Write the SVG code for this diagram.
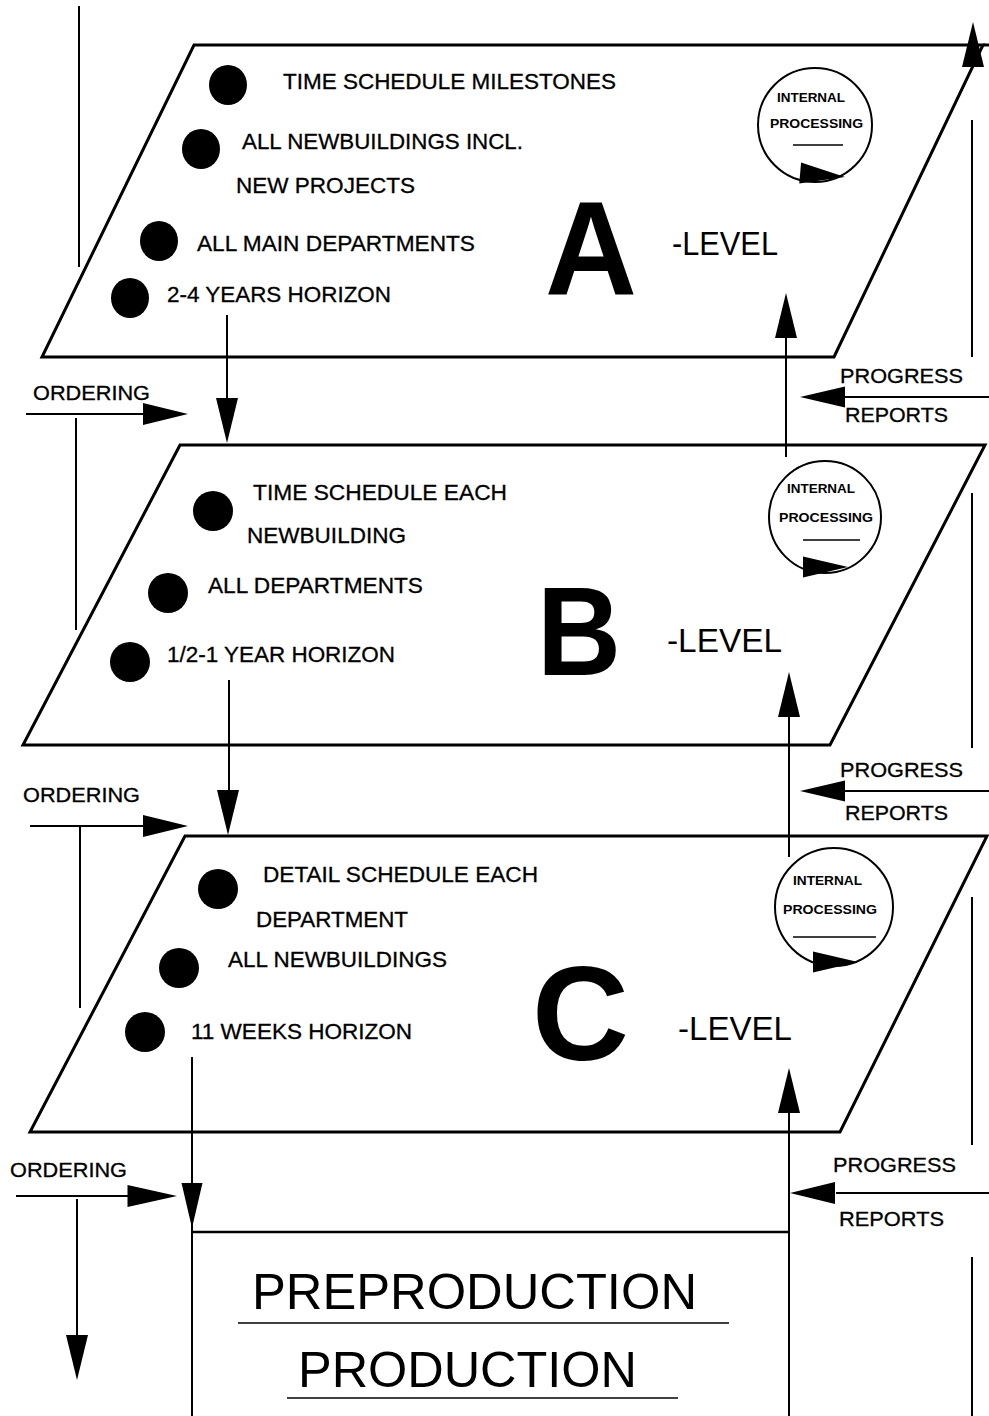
<svg xmlns="http://www.w3.org/2000/svg" xmlns:xlink="http://www.w3.org/1999/xlink" width="989" height="1416" viewBox="0 0 989 1416">
<style>
  .plane{fill:#fff;stroke:#000;stroke-width:3;stroke-linejoin:miter}
  .ln{stroke:#000;stroke-width:2;fill:none}
  .t{font-family:"Liberation Sans",Arial,sans-serif;font-size:22px;fill:#000;stroke:#000;stroke-width:0.3}
  .lbl{font-family:"Liberation Sans",Arial,sans-serif;font-size:21px;fill:#000;stroke:#000;stroke-width:0.3}
  .big{font-family:"Liberation Sans",Arial,sans-serif;font-weight:bold;fill:#000}
  .lev{font-family:"Liberation Sans",Arial,sans-serif;font-size:34px;fill:#000}
  .ip{font-family:"Liberation Sans",Arial,sans-serif;font-size:13px;font-weight:bold;fill:#000}
  .circ{fill:none;stroke:#000;stroke-width:2}
  .dot{fill:#000}
  .prod{font-family:"Liberation Sans",Arial,sans-serif;font-size:50px;fill:#000}
</style>
<defs>
  <polygon id="ah" points="0,0 -45,-11 -45,11" fill="#000"/>
  <polygon id="ahs" points="0,0 -45,-10.5 -45,10.5" fill="#000"/>
</defs>

<g id="levelA">
  <polygon class="plane" points="194,45 983,45 834,357 42,357"/>
  <line class="ln" x1="983" y1="45" x2="989" y2="45" style="stroke-width:3"/>
  <ellipse class="dot" cx="228" cy="85" rx="19" ry="20"/>
  <ellipse class="dot" cx="201" cy="149" rx="19" ry="20"/>
  <ellipse class="dot" cx="159" cy="241" rx="19" ry="20"/>
  <ellipse class="dot" cx="130" cy="298" rx="19" ry="20"/>
  <text class="t" x="283" y="89" textLength="333" lengthAdjust="spacingAndGlyphs">TIME SCHEDULE MILESTONES</text>
  <text class="t" x="242" y="149" textLength="281" lengthAdjust="spacingAndGlyphs">ALL NEWBUILDINGS INCL.</text>
  <text class="t" x="236" y="193" textLength="179" lengthAdjust="spacingAndGlyphs">NEW PROJECTS</text>
  <text class="t" x="197" y="251" textLength="278" lengthAdjust="spacingAndGlyphs">ALL MAIN DEPARTMENTS</text>
  <text class="t" x="167" y="302" textLength="224" lengthAdjust="spacingAndGlyphs">2-4 YEARS HORIZON</text>
  <text class="big" x="545" y="295" font-size="134" textLength="92" lengthAdjust="spacingAndGlyphs">A</text>
  <text class="lev" x="672" y="255" textLength="106" lengthAdjust="spacingAndGlyphs">-LEVEL</text>
  <circle class="circ" cx="815" cy="125" r="57"/>
  <text class="ip" x="777" y="102" textLength="68" lengthAdjust="spacingAndGlyphs">INTERNAL</text>
  <text class="ip" x="770" y="128" textLength="93" lengthAdjust="spacingAndGlyphs">PROCESSING</text>
  <line class="ln" x1="793" y1="145" x2="843" y2="145" style="stroke-width:1.5"/>
  <use xlink:href="#ahs" transform="translate(845,177) rotate(5)"/>
</g>

<g id="levelB">
  <polygon class="plane" points="180,445 985,445 830,745 23,745"/>
  <ellipse class="dot" cx="213" cy="511" rx="20" ry="20"/>
  <ellipse class="dot" cx="168" cy="593" rx="20" ry="20"/>
  <ellipse class="dot" cx="130" cy="662" rx="20" ry="20"/>
  <text class="t" x="253" y="500" textLength="254" lengthAdjust="spacingAndGlyphs">TIME SCHEDULE EACH</text>
  <text class="t" x="247" y="543" textLength="159" lengthAdjust="spacingAndGlyphs">NEWBUILDING</text>
  <text class="t" x="208" y="593" textLength="215" lengthAdjust="spacingAndGlyphs">ALL DEPARTMENTS</text>
  <text class="t" x="167" y="662" textLength="228" lengthAdjust="spacingAndGlyphs">1/2-1 YEAR HORIZON</text>
  <text class="big" x="537" y="675" font-size="127" textLength="84" lengthAdjust="spacingAndGlyphs">B</text>
  <text class="lev" x="667" y="652" textLength="115" lengthAdjust="spacingAndGlyphs">-LEVEL</text>
  <circle class="circ" cx="825" cy="517" r="56"/>
  <text class="ip" x="787" y="493" textLength="68" lengthAdjust="spacingAndGlyphs">INTERNAL</text>
  <text class="ip" x="779" y="522" textLength="94" lengthAdjust="spacingAndGlyphs">PROCESSING</text>
  <line class="ln" x1="803" y1="540" x2="860" y2="540" style="stroke-width:1.5"/>
  <use xlink:href="#ahs" transform="translate(848,567)"/>
</g>

<g id="levelC">
  <polygon class="plane" points="185,836 987,836 840,1132 30,1132"/>
  <ellipse class="dot" cx="218" cy="889" rx="20" ry="20"/>
  <ellipse class="dot" cx="179" cy="968" rx="20" ry="20"/>
  <ellipse class="dot" cx="145" cy="1032" rx="20" ry="20"/>
  <text class="t" x="263" y="882" textLength="275" lengthAdjust="spacingAndGlyphs">DETAIL SCHEDULE EACH</text>
  <text class="t" x="256" y="927" textLength="152" lengthAdjust="spacingAndGlyphs">DEPARTMENT</text>
  <text class="t" x="228" y="967" textLength="219" lengthAdjust="spacingAndGlyphs">ALL NEWBUILDINGS</text>
  <text class="t" x="191" y="1039" textLength="221" lengthAdjust="spacingAndGlyphs">11 WEEKS HORIZON</text>
  <text class="big" x="532" y="1060" font-size="134" textLength="97" lengthAdjust="spacingAndGlyphs">C</text>
  <text class="lev" x="678" y="1040" textLength="114" lengthAdjust="spacingAndGlyphs">-LEVEL</text>
  <circle class="circ" cx="834" cy="907" r="59"/>
  <text class="ip" x="793" y="885" textLength="69" lengthAdjust="spacingAndGlyphs">INTERNAL</text>
  <text class="ip" x="783" y="914" textLength="94" lengthAdjust="spacingAndGlyphs">PROCESSING</text>
  <line class="ln" x1="793" y1="937" x2="876" y2="937" style="stroke-width:1.5"/>
  <use xlink:href="#ahs" transform="translate(858,962)"/>
</g>

<g id="production">
  <line class="ln" x1="192" y1="1232" x2="789" y2="1232" style="stroke-width:2.5"/>
  <text class="prod" x="252" y="1309" textLength="445" lengthAdjust="spacingAndGlyphs">PREPRODUCTION</text>
  <line class="ln" x1="238" y1="1323" x2="729" y2="1323" style="stroke-width:1.5"/>
  <text class="prod" x="298" y="1387" textLength="339" lengthAdjust="spacingAndGlyphs">PRODUCTION</text>
  <line class="ln" x1="287" y1="1398" x2="678" y2="1398" style="stroke-width:1.5"/>
</g>

<g id="connectors">
  <!-- left side lines -->
  <line class="ln" x1="79" y1="6" x2="79" y2="267"/>
  <line class="ln" x1="227" y1="315" x2="227" y2="402"/>
  <use xlink:href="#ah" transform="translate(227,443) rotate(90)"/>
  <line class="ln" x1="26" y1="414" x2="146" y2="414"/>
  <use xlink:href="#ah" transform="translate(188,414)"/>
  <line class="ln" x1="76" y1="418" x2="76" y2="630"/>

  <line class="ln" x1="229" y1="680" x2="229" y2="794"/>
  <use xlink:href="#ah" transform="translate(228,835) rotate(90)"/>
  <line class="ln" x1="30" y1="826" x2="146" y2="826"/>
  <use xlink:href="#ah" transform="translate(188,826)"/>
  <line class="ln" x1="80" y1="826" x2="80" y2="1008"/>

  <line class="ln" x1="192" y1="1057" x2="192" y2="1416"/>
  <use xlink:href="#ahs" transform="translate(192,1228) rotate(90)"/>
  <line class="ln" x1="16" y1="1196" x2="132" y2="1196"/>
  <use xlink:href="#ah" transform="translate(177,1196) scale(1.1,1)"/>
  <line class="ln" x1="77" y1="1199" x2="77" y2="1340"/>
  <use xlink:href="#ah" transform="translate(77,1380) rotate(90)"/>

  <!-- right side lines -->
  <use xlink:href="#ah" transform="translate(973,22) rotate(-90)"/>
  <line class="ln" x1="972" y1="120" x2="972" y2="357"/>
  <line class="ln" x1="845" y1="397" x2="989" y2="397"/>
  <use xlink:href="#ahs" transform="translate(800,397) rotate(180)"/>
  <line class="ln" x1="786" y1="338" x2="786" y2="457"/>
  <use xlink:href="#ah" transform="translate(786,293) rotate(-90)"/>

  <line class="ln" x1="972" y1="493" x2="972" y2="748"/>
  <line class="ln" x1="845" y1="791" x2="989" y2="791"/>
  <use xlink:href="#ahs" transform="translate(800,791) rotate(180)"/>
  <line class="ln" x1="789" y1="714" x2="789" y2="857"/>
  <use xlink:href="#ah" transform="translate(789,672) rotate(-90)"/>

  <line class="ln" x1="972" y1="897" x2="972" y2="1145"/>
  <line class="ln" x1="836" y1="1193" x2="989" y2="1193"/>
  <use xlink:href="#ah" transform="translate(790,1193) rotate(180)"/>
  <line class="ln" x1="789" y1="1111" x2="789" y2="1416"/>
  <use xlink:href="#ah" transform="translate(789,1068) rotate(-90)"/>
  <line class="ln" x1="972" y1="1257" x2="972" y2="1416"/>
</g>

<g id="labels">
  <text class="lbl" x="33" y="400" textLength="117" lengthAdjust="spacingAndGlyphs">ORDERING</text>
  <text class="lbl" x="23" y="802" textLength="117" lengthAdjust="spacingAndGlyphs">ORDERING</text>
  <text class="lbl" x="10" y="1177" textLength="117" lengthAdjust="spacingAndGlyphs">ORDERING</text>
  <text class="lbl" x="840" y="383" textLength="123" lengthAdjust="spacingAndGlyphs">PROGRESS</text>
  <text class="lbl" x="845" y="422" textLength="103" lengthAdjust="spacingAndGlyphs">REPORTS</text>
  <text class="lbl" x="840" y="777" textLength="123" lengthAdjust="spacingAndGlyphs">PROGRESS</text>
  <text class="lbl" x="845" y="820" textLength="103" lengthAdjust="spacingAndGlyphs">REPORTS</text>
  <text class="lbl" x="833" y="1172" textLength="123" lengthAdjust="spacingAndGlyphs">PROGRESS</text>
  <text class="lbl" x="839" y="1226" textLength="105" lengthAdjust="spacingAndGlyphs">REPORTS</text>
</g>
</svg>
